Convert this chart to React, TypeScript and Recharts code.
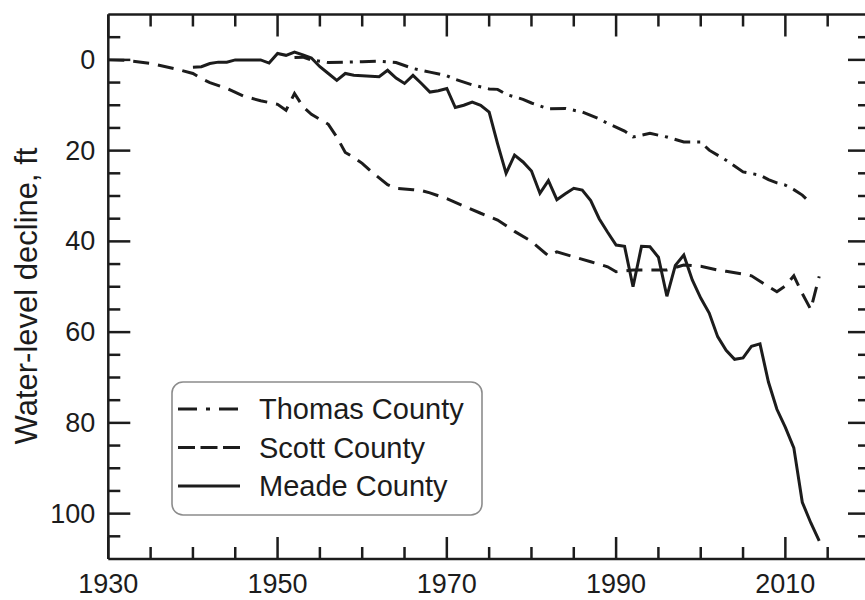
import { LineChart, Line, XAxis, YAxis } from 'recharts';

const FONT = '"Liberation Sans", Arial, Helvetica, sans-serif';
const INK = '#1c1c1c';

// x axis (years)
const majorYears = [1930, 1950, 1970, 1990, 2010];
const allYearTicks = [1930, 1935, 1940, 1945, 1950, 1955, 1960, 1965, 1970, 1975, 1980, 1985, 1990, 1995, 2000, 2005, 2010, 2015, 2020];
// y axis (water-level decline, ft)
const majorFeet = [0, 20, 40, 60, 80, 100];
const allFeetTicks = [-5, 0, 5, 10, 15, 20, 25, 30, 35, 40, 45, 50, 55, 60, 65, 70, 75, 80, 85, 90, 95, 100, 105];

const thomasYears = [1952, 1953, 1954, 1956, 1958, 1960, 1962, 1964, 1966, 1968, 1970, 1971, 1973, 1975, 1976, 1977, 1979, 1980, 1982, 1984, 1986, 1988, 1989, 1991, 1992, 1994, 1996, 1998, 2000, 2001, 2003, 2005, 2007, 2008, 2009, 2010, 2011, 2012, 2013];
const thomasDecline = [-0.5, -0.6, 0, 0.6, 0.5, 0.4, 0.3, 0.6, 1.9, 2.7, 3.5, 4.3, 5.5, 6.4, 6.5, 7.6, 8.7, 9.5, 10.8, 10.7, 11.5, 13, 14, 15.7, 17, 16.2, 17, 18.1, 18.1, 19.9, 22.1, 24.7, 25.4, 26.4, 27.1, 27.6, 28.6, 29.8, 31.6];

const scottYears = [1930, 1932, 1935, 1938, 1940, 1941, 1942, 1944, 1946, 1948, 1950, 1951, 1952, 1953, 1954, 1956, 1957, 1958, 1959, 1960, 1961, 1963, 1964, 1966, 1967, 1968, 1970, 1972, 1974, 1976, 1978, 1980, 1982, 1983, 1985, 1987, 1989, 1990, 1992, 1994, 1996, 1998, 2000, 2002, 2003, 2005, 2006, 2007, 2009, 2010, 2011, 2012, 2013, 2014];
const scottDecline = [0, 0.1, 0.8, 2, 3, 4.1, 5, 6.3, 8, 9, 9.8, 11.1, 7.4, 10.3, 12, 14.2, 17, 20.4, 21.5, 22.8, 24.5, 27.5, 28.3, 28.6, 28.8, 29.3, 30.6, 32.2, 33.8, 35.3, 37.8, 40, 43.2, 42.3, 43.4, 44.5, 45.6, 46.7, 46.3, 46.3, 46.3, 45.2, 45.5, 46.3, 46.6, 47.2, 47.6, 48.8, 51.1, 49.8, 47.6, 51.5, 55, 47.7];

const meadeYears = [1940, 1941, 1942, 1943, 1944, 1945, 1946, 1947, 1948, 1949, 1950, 1951, 1952, 1953, 1954, 1955, 1956, 1957, 1958, 1959, 1960, 1961, 1962, 1963, 1964, 1965, 1966, 1967, 1968, 1969, 1970, 1971, 1972, 1973, 1974, 1975, 1976, 1977, 1978, 1979, 1980, 1981, 1982, 1983, 1984, 1985, 1986, 1987, 1988, 1989, 1990, 1991, 1992, 1993, 1994, 1995, 1996, 1997, 1998, 1999, 2000, 2001, 2002, 2003, 2004, 2005, 2006, 2007, 2008, 2009, 2010, 2011, 2012, 2013, 2014];
const meadeDecline = [1.6, 1.5, 0.8, 0.5, 0.5, 0, 0, 0, 0, 0.7, -1.4, -1, -1.7, -1.1, -0.4, 1.5, 3, 4.5, 3, 3.4, 3.5, 3.6, 3.7, 2.3, 4, 5.2, 3.4, 5.2, 7.1, 6.8, 6.3, 10.5, 10, 9.3, 10, 11.5, 18.5, 25, 21, 22.5, 24.5, 29.4, 26.6, 30.8, 29.5, 28.3, 28.7, 31, 35, 38, 40.8, 41.1, 50, 41.1, 41.2, 43.5, 52.1, 45.3, 43, 48.5, 52.5, 55.8, 61, 64, 66, 65.7, 63.1, 62.6, 71, 77, 81, 85.5, 97.5, 102, 106];

const toRows = (years: number[], values: number[]) =>
  years.map((year, i) => ({ year, decline: values[i] }));

// Scott is bound to the top/right axes (same domains) so those frame axes get drawn too
const series = [
  { name: 'Thomas County', data: toRows(thomasYears, thomasDecline), dash: '16 7 3 7', legendDash: '19 9 4 9 19 20', xId: 'x', yId: 'y' },
  { name: 'Scott County', data: toRows(scottYears, scottDecline), dash: '16 9', legendDash: '17 5.5', xId: 'xTop', yId: 'yRight' },
  { name: 'Meade County', data: toRows(meadeYears, meadeDecline), dash: undefined, legendDash: undefined, xId: 'x', yId: 'y' },
];

const axisLine = { stroke: INK, strokeWidth: 2.5 };

// inward tick marks drawn by hand; tickSize/tickMargin are 0 so (x, y) sits on the axis line
type Side = 'bottom' | 'top' | 'left' | 'right';
const makeTick = (side: Side, majors: number[], withLabel: boolean) => (props: any) => {
  const x = Number(props.x);
  const y = Number(props.y);
  const value = props.payload?.value;
  const major = majors.includes(value);
  const len = major ? 22 : 12;
  let line;
  if (side === 'bottom') line = { x1: x, x2: x, y1: y, y2: y - len };
  else if (side === 'top') line = { x1: x, x2: x, y1: y, y2: y + len };
  else if (side === 'left') line = { x1: x, x2: x + len, y1: y, y2: y };
  else line = { x1: x, x2: x - len, y1: y, y2: y };
  return (
    <g>
      <line {...line} stroke={INK} strokeWidth={2.5} />
      {withLabel && major && side === 'bottom' && (
        <text x={x} y={y + 34} textAnchor="middle" fontSize={27} fontFamily={FONT} fill={INK}>
          {value}
        </text>
      )}
      {withLabel && major && side === 'left' && (
        <text x={x - 13} y={y} textAnchor="end" dominantBaseline="central" fontSize={27} fontFamily={FONT} fill={INK}>
          {value}
        </text>
      )}
    </g>
  );
};

function LegendBox() {
  return (
    <svg width={312} height={136} style={{ display: 'block' }}>
      <rect x={1} y={1} width={310} height={133} rx={11} fill="#fff" stroke="#8c8c8c" strokeWidth={1.6} />
      {series.map((s, i) => {
        const y = 28 + i * 38.5;
        return (
          <g key={s.name}>
            <line x1={7} x2={69} y1={y} y2={y} stroke={INK} strokeWidth={3.2} strokeDasharray={s.legendDash} />
            <text x={88} y={y} dominantBaseline="central" fontSize={29} fontFamily={FONT} fill={INK}>
              {s.name}
            </text>
          </g>
        );
      })}
    </svg>
  );
}

const xCommon = { dataKey: 'year', type: 'number' as const, domain: [1930, 2020], ticks: allYearTicks, interval: 0, height: 1, tickSize: 0, tickMargin: 0, tickLine: false, axisLine };
const yCommon = { type: 'number' as const, domain: [-10, 110], reversed: true, ticks: allFeetTicks, interval: 0, width: 1, tickSize: 0, tickMargin: 0, tickLine: false, axisLine };

export default function App() {
  return (
    <div style={{ position: 'absolute', left: 8, top: 8, width: 857, height: 592, overflow: 'hidden' }}>
      <LineChart width={870} height={592} margin={{ top: 5.5, right: 7, bottom: 40, left: 99.3 }}>
        <XAxis xAxisId="x" {...xCommon} tick={makeTick('bottom', majorYears, true)} />
        <XAxis xAxisId="xTop" orientation="top" {...xCommon} tick={makeTick('top', majorYears, false)} />
        <YAxis
          yAxisId="y"
          {...yCommon}
          tick={makeTick('left', majorFeet, true)}
          label={{
            content: () => (
              <text
                x={18}
                y={288}
                transform="rotate(-90 18 288)"
                textAnchor="middle"
                dominantBaseline="central"
                fontSize={31}
                fontFamily={FONT}
                fill={INK}
              >
                Water-level decline, ft
              </text>
            ),
          }}
        />
        <YAxis yAxisId="yRight" orientation="right" {...yCommon} tick={makeTick('right', majorFeet, false)} />
        {series.map((s) => (
          <Line
            key={s.name}
            xAxisId={s.xId}
            yAxisId={s.yId}
            data={s.data}
            dataKey="decline"
            name={s.name}
            type="linear"
            stroke={INK}
            strokeWidth={3}
            strokeDasharray={s.dash}
            dot={false}
            activeDot={false}
            isAnimationActive={false}
          />
        ))}
      </LineChart>
      <div style={{ position: 'absolute', left: 163, top: 373 }}>
        <LegendBox />
      </div>
    </div>
  );
}
